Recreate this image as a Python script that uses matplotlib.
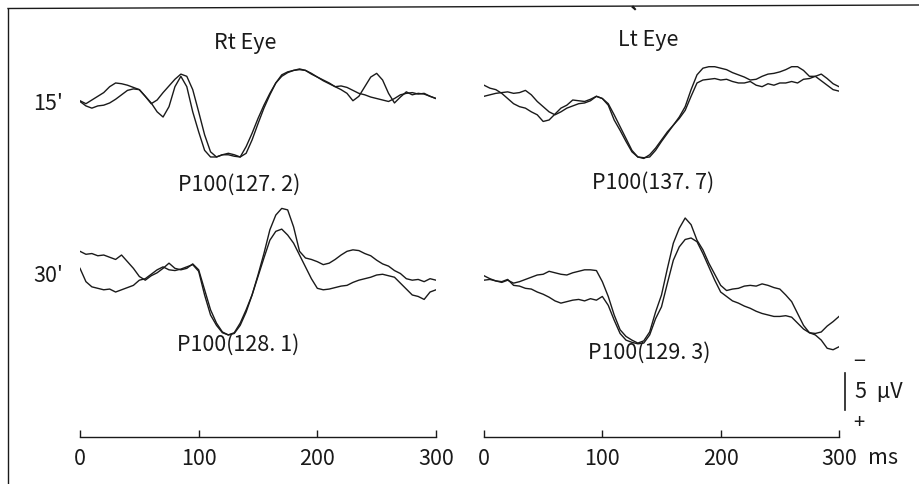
import numpy as np
import matplotlib
matplotlib.use("Agg")
import matplotlib.pyplot as plt
from matplotlib.lines import Line2D

# ---------------- data (µV, positive plotted downward, VEP convention) ----------------
time_ms = list(range(0, 301, 5))

rt15_a = [0.1, 0.5, 0.0, -0.5, -1.0, -1.8, -2.3, -2.2, -2.0, -1.7, -1.4, -0.5, 0.4, 1.6, 2.3, 0.9,
          -1.8, -3.2, -1.8, 1.6, 4.3, 6.8, 7.7, 7.7, 7.4, 7.4, 7.6, 7.7, 6.3, 4.5, 2.5, 0.7, -0.9,
          -2.3, -3.4, -3.8, -4.0, -4.1, -4.0, -3.6, -3.1, -2.7, -2.3, -1.8, -1.4, -0.9, 0.1, -0.5,
          -1.8, -3.1, -3.6, -2.7, -0.9, 0.4, -0.4, -1.1, -0.7, -0.9, -0.8, -0.5, -0.2]
rt15_b = [0.2, 0.8, 1.1, 0.8, 0.7, 0.4, -0.1, -0.7, -1.3, -1.5, -1.4, -0.5, 0.5, 0.0, -1.0, -1.9,
          -2.8, -3.5, -3.2, -1.4, 1.6, 4.7, 7.0, 7.7, 7.4, 7.2, 7.4, 7.7, 7.2, 5.4, 3.2, 1.1, -0.7,
          -2.3, -3.2, -3.7, -4.0, -4.2, -4.0, -3.5, -3.1, -2.6, -2.2, -1.8, -1.9, -1.7, -1.3, -0.9,
          -0.7, -0.4, -0.2, 0.0, 0.2, -0.2, -0.7, -0.9, -1.0, -0.8, -0.9, -0.5, -0.2]

lt15_c = [-0.5, -0.7, -0.9, -1.0, -1.1, -0.9, -1.0, -1.3, -0.7, 0.2, 0.9, 1.6, 2.0, 1.6, 1.1, 0.8,
          0.5, 0.4, 0.1, -0.5, -0.2, 0.5, 2.0, 3.6, 5.2, 6.8, 7.7, 7.8, 7.7, 6.8, 5.6, 4.5, 3.4,
          2.3, 0.9, -1.4, -3.4, -4.3, -4.5, -4.5, -4.3, -4.1, -3.7, -3.4, -3.1, -2.7, -2.8, -3.2,
          -3.5, -3.6, -3.8, -4.1, -4.5, -4.5, -4.0, -3.2, -3.2, -3.5, -2.9, -2.2, -1.8]
lt15_d = [-2.0, -1.6, -1.4, -0.9, -0.2, 0.5, 0.9, 1.1, 1.6, 2.0, 2.9, 2.7, 1.9, 1.1, 0.7, 0.0,
          0.1, 0.2, -0.1, -0.5, -0.2, 0.7, 2.7, 4.1, 5.6, 7.0, 7.7, 7.9, 7.4, 6.5, 5.4, 4.3, 3.4,
          2.5, 1.4, -0.5, -2.3, -2.7, -2.8, -2.9, -2.7, -2.8, -2.5, -2.3, -2.3, -2.5, -2.0, -1.8,
          -2.2, -2.0, -2.3, -2.3, -2.5, -2.3, -2.8, -2.9, -3.2, -2.6, -2.0, -1.4, -1.2]

rt30_e = [-3.2, -2.8, -2.9, -2.6, -2.7, -2.4, -2.1, -2.7, -1.8, -0.9, 0.2, 0.7, 0.1, -0.3, -0.9,
          -1.6, -0.9, -0.7, -0.9, -1.5, -0.7, 2.0, 4.7, 6.5, 7.7, 8.1, 7.9, 6.8, 5.0, 2.7, 0.0,
          -2.9, -6.1, -8.1, -9.0, -8.8, -6.5, -3.2, -2.3, -2.1, -1.8, -1.4, -1.6, -2.1, -2.7, -3.2,
          -3.4, -3.3, -2.9, -2.6, -2.0, -1.5, -1.2, -0.6, -0.2, 0.5, 0.7, 0.6, 0.9, 0.5, 0.7]
rt30_f = [-0.9, 0.9, 1.6, 1.8, 2.0, 1.9, 2.3, 2.0, 1.7, 1.4, 0.7, 0.5, -0.1, -0.7, -1.1, -0.7,
          -0.6, -0.8, -1.1, -1.4, -0.5, 2.7, 5.4, 6.8, 7.8, 8.1, 7.8, 6.5, 4.7, 2.7, 0.2, -2.3,
          -4.7, -5.9, -6.2, -5.4, -4.3, -2.7, -1.1, 0.5, 1.8, 2.0, 1.9, 1.7, 1.5, 1.4, 1.0, 0.7,
          0.5, 0.3, 0.0, -0.1, 0.1, 0.3, 1.1, 1.9, 2.7, 2.9, 3.3, 2.3, 2.0]

lt30_g = [0.1, 0.5, 0.8, 1.0, 0.7, 1.1, 0.9, 0.6, 0.3, 0.0, -0.1, -0.5, -0.3, -0.1, 0.0, -0.3,
          -0.5, -0.7, -0.7, -0.6, 0.9, 2.9, 5.4, 7.4, 8.3, 8.8, 9.2, 8.9, 7.7, 5.0, 2.7, -0.9,
          -4.3, -6.3, -7.7, -6.8, -4.7, -3.4, -1.6, -0.1, 1.4, 2.1, 1.9, 1.8, 1.5, 1.4, 1.5, 1.2,
          1.4, 1.7, 1.9, 2.7, 3.6, 5.2, 6.8, 7.8, 8.1, 8.8, 9.9, 10.1, 9.7]
lt30_h = [0.7, 0.6, 0.8, 0.9, 0.6, 1.4, 1.5, 1.8, 1.9, 2.3, 2.6, 3.0, 3.5, 3.8, 3.6, 3.4, 3.3,
          3.5, 3.2, 3.4, 2.9, 4.1, 6.1, 7.9, 8.8, 9.1, 9.3, 9.2, 8.1, 5.9, 4.3, 1.1, -2.0, -3.8,
          -4.8, -5.0, -4.5, -2.9, -1.1, 0.7, 2.3, 2.9, 3.5, 3.8, 4.2, 4.5, 4.9, 5.2, 5.4, 5.6,
          5.6, 5.5, 5.7, 6.5, 7.3, 7.8, 7.9, 7.7, 6.9, 6.3, 5.6]

x_ticks = [0, 100, 200, 300]
eye_titles = ["Rt Eye", "Lt Eye"]
row_labels = ["15'", "30'"]
p100_labels = [["P100(127. 2)", "P100(128. 1)"], ["P100(137. 7)", "P100(129. 3)"]]
scale_uv = 5

# ---------------- layout ----------------
W, H = 919, 484
fig = plt.figure(figsize=(W / 100, H / 100), dpi=100)
FONT = ['Noto Sans CJK JP', 'DejaVu Sans']
INK = '#1a1a1a'
FS = 15.5

def fx(px):
    return px / W

def fy(py):
    return 1 - py / H

px_per_uv = 7.4
top_px, axis_px, base1_px = 10, 437, 100
row_offset = [0.0, (275 - base1_px) / px_per_uv]
ylim = ((axis_px - base1_px) / px_per_uv, (top_px - base1_px) / px_per_uv)

ax_specs = [(80, 436), (484, 839)]
traces = [[(rt15_a, rt15_b), (rt30_e, rt30_f)], [(lt15_c, lt15_d), (lt30_g, lt30_h)]]

axes = []
for col, (x0, x1) in enumerate(ax_specs):
    ax = fig.add_axes([fx(x0), fy(axis_px), fx(x1 - x0), (axis_px - top_px) / H])
    ax.set_xlim(0, 300)
    ax.set_ylim(*ylim)
    ax.patch.set_alpha(0)
    for s in ['top', 'left', 'right']:
        ax.spines[s].set_visible(False)
    ax.spines['bottom'].set_linewidth(1.0)
    ax.spines['bottom'].set_color(INK)
    ax.set_yticks([])
    ax.set_xticks(x_ticks)
    ax.set_xticklabels([str(v) for v in x_ticks], family=FONT, fontsize=FS, color=INK)
    ax.tick_params(axis='x', direction='in', length=5, width=1.0, color=INK, pad=8)
    for row in range(2):
        for tr in traces[col][row]:
            ax.plot(time_ms, np.array(tr) + row_offset[row], color=INK, lw=1.0)
    axes.append(ax)

# titles
fig.text(fx(245), fy(43), eye_titles[0], family=FONT, fontsize=FS, ha='center', va='center', color=INK)
fig.text(fx(648), fy(40), eye_titles[1], family=FONT, fontsize=FS, ha='center', va='center', color=INK)
fig.text(fx(635), fy(18), '`', family=FONT, fontsize=14, fontweight='bold', ha='center', va='center', color=INK)

# row labels
fig.text(fx(48), fy(104), row_labels[0], family=FONT, fontsize=FS, ha='center', va='center', color=INK)
fig.text(fx(48), fy(276), row_labels[1], family=FONT, fontsize=FS, ha='center', va='center', color=INK)

# P100 labels
p_pos = [[(239, 185), (238, 345)], [(653, 183), (649, 353)]]
for c in range(2):
    for r in range(2):
        x, y = p_pos[c][r]
        fig.text(fx(x), fy(y), p100_labels[c][r], family=FONT, fontsize=FS, ha='center', va='center', color=INK)

# scale bar
axr = axes[1]
bar_x = 305
bar_top = (373 - base1_px) / px_per_uv
axr.plot([bar_x, bar_x], [bar_top, bar_top + scale_uv], color=INK, lw=1.2, clip_on=False)
fig.text(fx(859), fy(362), '\u2212', family=FONT, fontsize=FS, ha='center', va='center', color=INK)
fig.text(fx(855), fy(392), f'{scale_uv}  \u03bcV', family=FONT, fontsize=FS, ha='left', va='center', color=INK)
fig.text(fx(859), fy(423), '+', family=FONT, fontsize=FS - 1, ha='center', va='center', color=INK)
fig.text(fx(868), fy(458), 'ms', family=FONT, fontsize=FS, ha='left', va='center', color=INK)

# frame (left and top edges of the scanned box)
fig.add_artist(Line2D([fx(8), fx(8)], [fy(8.5), fy(484)], transform=fig.transFigure, color=INK, lw=1.0))
fig.add_artist(Line2D([fx(8), fx(919)], [fy(8.5), fy(5)], transform=fig.transFigure, color=INK, lw=1.0))

fig.savefig('out.png', dpi=100)
